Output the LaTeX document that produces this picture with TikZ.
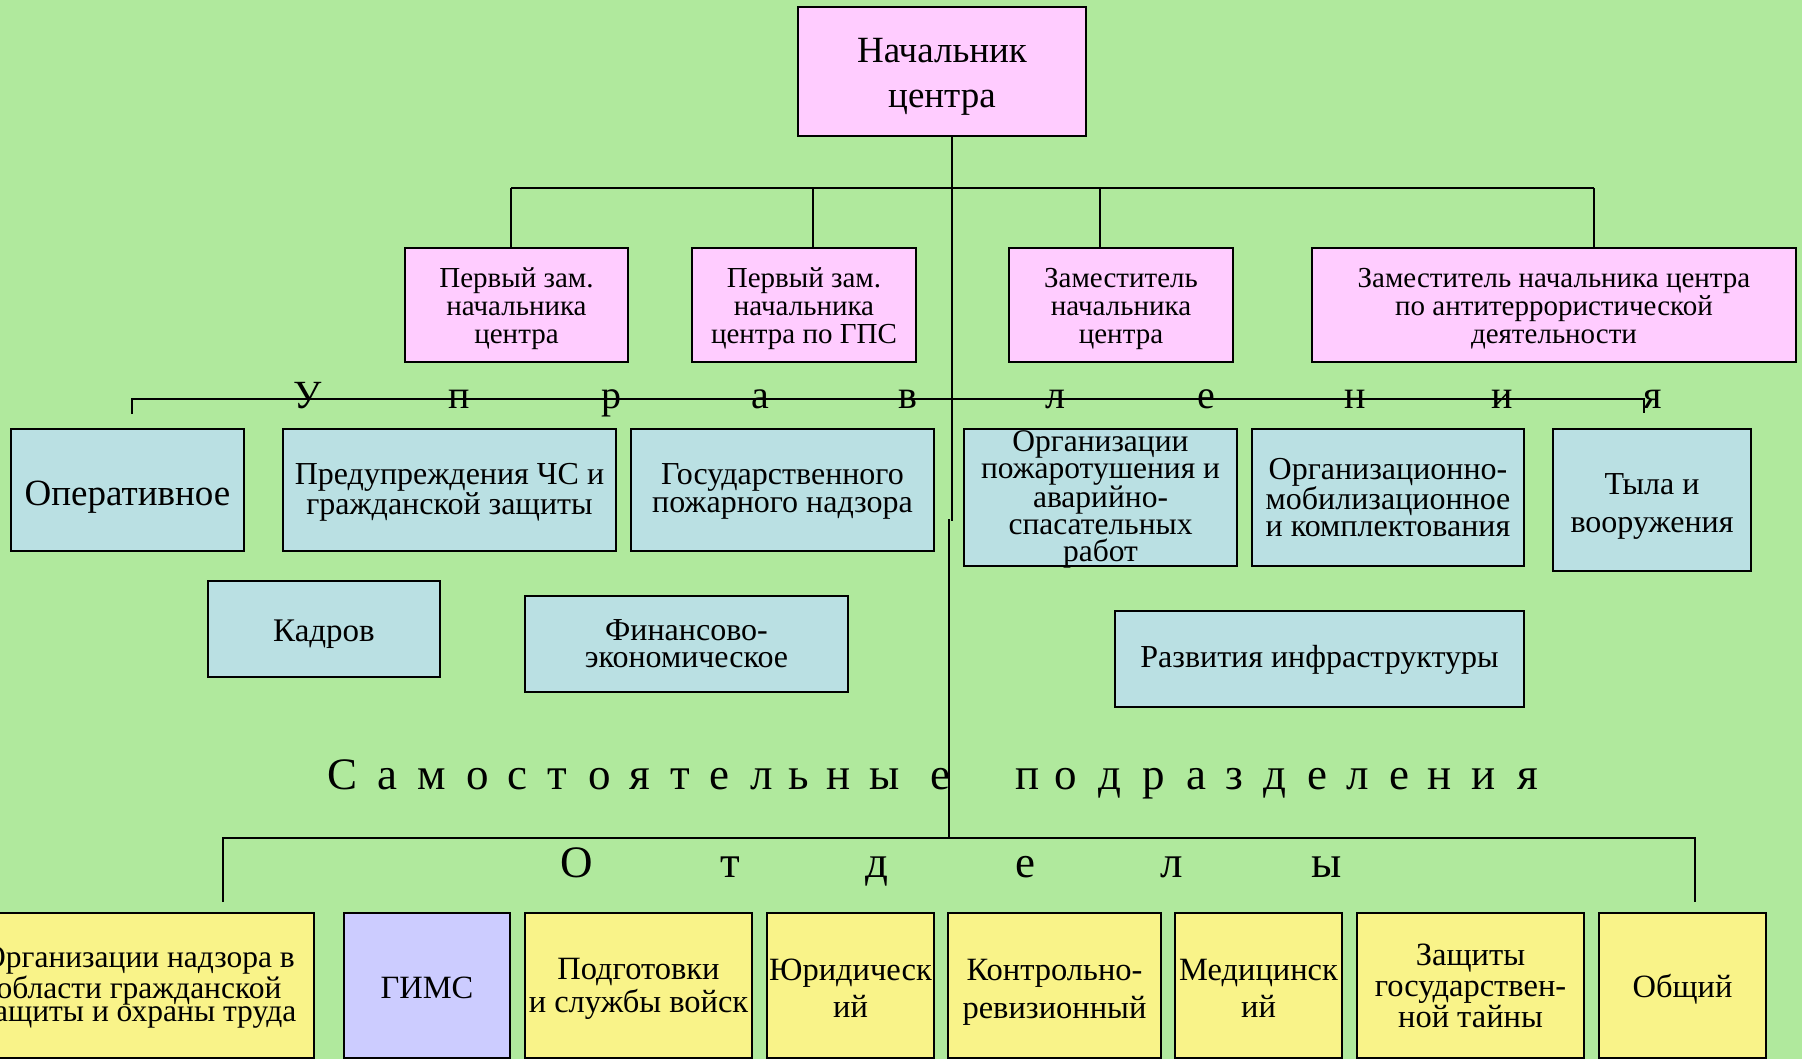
\documentclass[tikz,border=0pt]{standalone}
\usepackage{fontspec}
\setmainfont{Liberation Serif}
\definecolor{bggreen}{RGB}{176,233,157}
\definecolor{boxpink}{RGB}{255,204,255}
\definecolor{boxblue}{RGB}{186,224,227}
\definecolor{boxyellow}{RGB}{249,243,137}
\definecolor{boxlav}{RGB}{204,204,255}
\begin{document}
\begin{tikzpicture}[x=1pt,y=-1pt,
  box/.style={draw=black, line width=2pt, inner sep=0pt},
  pinkbox/.style={box, fill=boxpink},
  bluebox/.style={box, fill=boxblue},
  yelbox/.style={box, fill=boxyellow},
  lavbox/.style={box, fill=boxlav},
  txt/.style={inner sep=0pt, align=center, text=black},
  deptxt/.style={txt, font=\fontsize{29}{28}\selectfont},
  untxt/.style={txt, font=\fontsize{32}{28}\selectfont},
  otxt/.style={txt, font=\fontsize{32.5}{33}\selectfont},
  conn/.style={draw=black, line width=2.2pt},
  bigletter/.style={anchor=base, inner sep=0pt, font=\fontsize{40}{40}\selectfont},
  hugeletter/.style={anchor=base, inner sep=0pt, font=\fontsize{45}{45}\selectfont}
]
\useasboundingbox (0,0) rectangle (1802,1059);
\clip (0,0) rectangle (1802,1059);
\fill[bggreen] (0,0) rectangle (1802,1059);

% chief
\node[pinkbox, minimum width=288pt, minimum height=129pt] (chief) at (942,71.5) {};
\node[txt, font=\fontsize{37}{45}\selectfont, yshift=-5pt] (chiefT) at (chief.center) {Начальник\\центра};

% deputies
\node[pinkbox, minimum width=223pt, minimum height=114pt] (d1) at (516.5,305) {};
\node[pinkbox, minimum width=224pt, minimum height=114pt] (d2) at (804,305) {};
\node[pinkbox, minimum width=224pt, minimum height=114pt] (d3) at (1121,305) {};
\node[pinkbox, minimum width=484pt, minimum height=114pt] (d4) at (1554,305) {};
\node[deptxt, yshift=-3.5pt] (d1T) at (d1.center) {Первый зам.\\начальника\\центра};
\node[deptxt, yshift=-3.5pt] (d2T) at (d2.center) {Первый зам.\\начальника\\центра по ГПС};
\node[deptxt, yshift=-3.5pt] (d3T) at (d3.center) {Заместитель\\начальника\\центра};
\node[deptxt, yshift=-3.5pt] (d4T) at (d4.center) {Заместитель начальника центра\\по антитеррористической\\деятельности};

% departments (управления)
\node[bluebox, minimum width=233pt, minimum height=122pt] (u1) at (127.5,490) {};
\node[bluebox, minimum width=333pt, minimum height=122pt] (u2) at (449.5,490) {};
\node[bluebox, minimum width=303pt, minimum height=122pt] (u3) at (782.5,490) {};
\node[bluebox, minimum width=273pt, minimum height=137pt] (u4) at (1100.5,497.5) {};
\node[bluebox, minimum width=272pt, minimum height=137pt] (u5) at (1388,497.5) {};
\node[bluebox, minimum width=198pt, minimum height=142pt] (u6) at (1652,500) {};
\node[bluebox, minimum width=232pt, minimum height=96pt] (u7) at (324,629) {};
\node[bluebox, minimum width=323pt, minimum height=96pt] (u8) at (686.5,644) {};
\node[bluebox, minimum width=409pt, minimum height=96pt] (u9) at (1319.5,659) {};
\node[txt, font=\fontsize{37}{37}\selectfont, yshift=-7pt] (u1T) at (u1.center) {Оперативное};
\node[untxt, font=\fontsize{32}{30}\selectfont, yshift=-2pt] (u2T) at (u2.center) {Предупреждения ЧС и\\гражданской защиты};
\node[untxt, yshift=-1pt] (u3T) at (u3.center) {Государственного\\пожарного надзора};
\node[untxt, font=\fontsize{31.5}{27}\selectfont, yshift=-2pt] (u4T) at (u4.center) {Организации\\пожаротушения и\\аварийно-\\спасательных\\работ};
\node[untxt, font=\fontsize{32}{27}\selectfont] (u5T) at (u5.center) {Организационно-\\мобилизационное\\и комплектования};
\node[untxt, font=\fontsize{32}{38}\selectfont, yshift=-6pt] (u6T) at (u6.center) {Тыла и\\вооружения};
\node[untxt, font=\fontsize{33}{33}\selectfont, yshift=-5pt] (u7T) at (u7.center) {Кадров};
\node[untxt, font=\fontsize{32}{27}\selectfont] (u8T) at (u8.center) {Финансово-\\экономическое};
\node[untxt, yshift=-1pt] (u9T) at (u9.center) {Развития инфраструктуры};

% отделы
\node[yelbox, minimum width=356pt, minimum height=145pt] (b1) at (136,985.5) {};
\node[lavbox, minimum width=166pt, minimum height=145pt] (b2) at (427,985.5) {};
\node[yelbox, minimum width=227pt, minimum height=145pt] (b3) at (638.5,985.5) {};
\node[yelbox, minimum width=167pt, minimum height=145pt] (b4) at (850.5,985.5) {};
\node[yelbox, minimum width=213pt, minimum height=145pt] (b5) at (1054.5,985.5) {};
\node[yelbox, minimum width=167pt, minimum height=145pt] (b6) at (1258.5,985.5) {};
\node[yelbox, minimum width=227pt, minimum height=145pt] (b7) at (1470.5,985.5) {};
\node[yelbox, minimum width=167pt, minimum height=145pt] (b8) at (1682.5,985.5) {};
\node[otxt, font=\fontsize{31.5}{23}\selectfont, xshift=3pt, yshift=-2pt] (b1T) at (b1.center) {Организации надзора в\\области гражданской\\защиты и охраны труда};
\node[otxt, yshift=-2pt] (b2T) at (b2.center) {ГИМС};
\node[otxt, yshift=-3.5pt] (b3T) at (b3.center) {Подготовки\\и службы войск};
\node[otxt, font=\fontsize{32.5}{37}\selectfont, yshift=-2.5pt] (b4T) at (b4.center) {Юридическ\\ий};
\node[otxt, font=\fontsize{32.5}{38}\selectfont, yshift=-7pt] (b5T) at (b5.center) {Контрольно-\\ревизионный};
\node[otxt, font=\fontsize{32.5}{37}\selectfont, yshift=-2.5pt] (b6T) at (b6.center) {Медицинск\\ий};
\node[otxt, font=\fontsize{32.5}{31}\selectfont] (b7T) at (b7.center) {Защиты\\государствен-\\ной тайны};
\node[otxt, yshift=-3.5pt] (b8T) at (b8.center) {Общий};

% trunk
\coordinate (jogA) at (952,521);
\coordinate (jogB) at (949,519);
\coordinate (sb) at (949,838);
\draw[conn, line width=2pt] (chief.south -| jogA) -- (jogA);
\draw[conn, line width=2pt] (jogB) -- (sb);

% top bus
\coordinate (tb1) at (511,188);
\coordinate (tb2) at (813,188);
\coordinate (tb3) at (1100,188);
\coordinate (tb4) at (1594,188);
\draw[conn] (tb1) -- (tb4);
\draw[conn, line width=1.8pt] (tb1) -- (tb1 |- d1.north);
\draw[conn, line width=1.8pt] (tb2) -- (tb2 |- d2.north);
\draw[conn, line width=1.8pt] (tb3) -- (tb3 |- d3.north);
\draw[conn, line width=1.8pt] (tb4) -- (tb4 |- d4.north);

% управления bracket
\coordinate (ul) at (132,399);
\coordinate (ulb) at (132,414);
\coordinate (ur) at (1644,399);
\coordinate (urb) at (1644,413);
\draw[conn, line width=2pt] (ulb) -- (ul) -- (ur) -- (urb);

% bottom bus
\coordinate (bl) at (223,838);
\coordinate (blb) at (223,902);
\coordinate (br) at (1695,838);
\coordinate (brb) at (1695,902);
\draw[conn] (blb) -- (bl) -- (br) -- (brb);

% spaced words
\foreach \ch/\xx [count=\i] in {У/308,п/459,р/611,а/760,в/908,л/1055,е/1206,н/1355,и/1502,я/1653}
  \node[bigletter] (upr\i) at (\xx,408) {\ch};
\foreach \ch/\xx [count=\i] in {С/343,а/387,м/432,о/478,с/517,т/557,о/600,я/640,т/680,е/719,л/762,ь/799,н/839,ы/885,е/940,
    п/1028,о/1066,д/1110,р/1154,а/1196,з/1234,д/1275,е/1317,л/1358,е/1399,н/1440,и/1484,я/1528}
  \node[hugeletter] (sam\i) at (\xx,789) {\ch};
\foreach \ch/\xx [count=\i] in {О/577,т/730,д/877,е/1025,л/1172,ы/1327}
  \node[hugeletter] (otd\i) at (\xx,877) {\ch};
\end{tikzpicture}
\end{document}
